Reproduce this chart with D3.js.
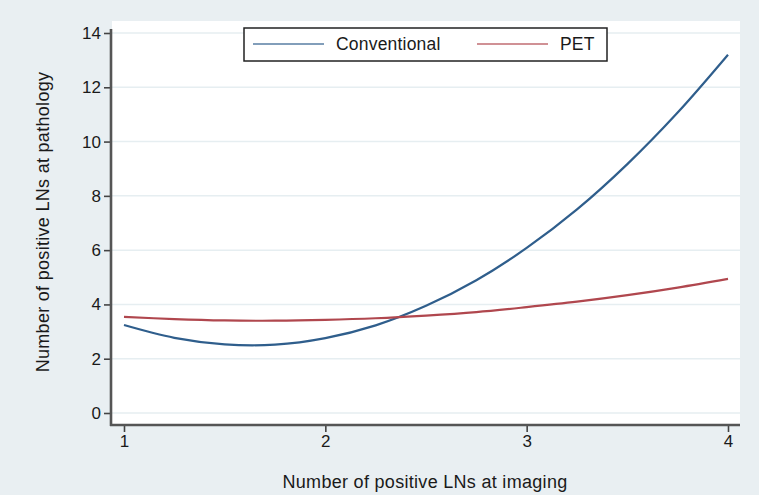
<!DOCTYPE html>
<html>
<head>
<meta charset="utf-8">
<script src="https://cdn.jsdelivr.net/npm/d3@7"></script>
<style>
  html, body { margin: 0; padding: 0; background: #eaf0f3; }
  svg { display: block; }
  text { font-family: "Liberation Sans", Arial, sans-serif; fill: #1a1a1a; }
</style>
</head>
<body>
<div id="chart"></div>
<script>
// Values
const xValues = [1, 1.25, 1.5, 1.75, 2, 2.25, 2.5, 2.75, 3, 3.25, 3.5, 3.75, 4];
const conventional = [3.24, 2.77, 2.53, 2.52, 2.76, 3.23, 3.95, 4.89, 6.08, 7.5, 9.17, 11.07, 13.2];
const pet = [3.54, 3.46, 3.41, 3.40, 3.43, 3.49, 3.59, 3.72, 3.90, 4.10, 4.34, 4.62, 4.94];
const xTicks = [1, 2, 3, 4];
const yTicks = [0, 2, 4, 6, 8, 10, 12, 14];
const seriesNames = ["Conventional", "PET"];

const width = 759, height = 495;
const plot = { left: 112, right: 740, top: 21, bottom: 425 };

const svg = d3.select("#chart")
    .append("svg")
    .attr("width", width)
    .attr("height", height);

// Background
svg.append("rect")
    .attr("width", width).attr("height", height)
    .attr("fill", "#e9eff2");

svg.append("rect")
    .attr("x", plot.left).attr("y", plot.top)
    .attr("width", plot.right - plot.left)
    .attr("height", plot.bottom - plot.top)
    .attr("fill", "#ffffff");

const x = d3.scaleLinear().domain([1, 4]).range([124, 728]);
const y = d3.scaleLinear().domain([0, 14]).range([413, 33]);

// Gridlines
svg.append("g")
    .selectAll("line")
    .data(yTicks)
    .join("line")
    .attr("x1", plot.left).attr("x2", plot.right)
    .attr("y1", d => y(d)).attr("y2", d => y(d))
    .attr("stroke", "#e6eef1")
    .attr("stroke-width", 1.5);

// Lines
const colors = ["#2f5e8c", "#b0474e"];
const line = d3.line()
    .x(d => x(d[0]))
    .y(d => y(d[1]))
    .curve(d3.curveCatmullRom);

[conventional, pet].forEach((vals, i) => {
    svg.append("path")
        .datum(xValues.map((xv, j) => [xv, vals[j]]))
        .attr("fill", "none")
        .attr("stroke", colors[i])
        .attr("stroke-width", 2.2)
        .attr("d", line);
});

// Y axis
const yAxis = svg.append("g")
    .attr("transform", `translate(${plot.left - 1},0)`)
    .call(d3.axisLeft(y).tickValues(yTicks).tickSize(7).tickPadding(3));
yAxis.select(".domain").remove();
yAxis.selectAll(".tick line").attr("stroke", "#444").attr("stroke-width", 1.6);
yAxis.selectAll(".tick text")
    .style("font-size", "17px")
    .style("font-family", "'Liberation Sans', Arial, sans-serif")
    .attr("fill", "#1a1a1a");

svg.append("line")
    .attr("x1", plot.left - 1).attr("x2", plot.left - 1)
    .attr("y1", 29).attr("y2", plot.bottom + 1)
    .attr("stroke", "#555").attr("stroke-width", 2.6);

// X axis
const xAxis = svg.append("g")
    .attr("transform", `translate(0,${plot.bottom})`)
    .call(d3.axisBottom(x).tickValues(xTicks).tickFormat(d3.format("d")).tickSize(7).tickPadding(3));
xAxis.select(".domain").remove();
xAxis.selectAll(".tick line").attr("stroke", "#444").attr("stroke-width", 1.6);
xAxis.selectAll(".tick text")
    .style("font-size", "17px")
    .style("font-family", "'Liberation Sans', Arial, sans-serif")
    .attr("fill", "#1a1a1a");

svg.append("line")
    .attr("x1", plot.left - 2).attr("x2", plot.right)
    .attr("y1", plot.bottom).attr("y2", plot.bottom)
    .attr("stroke", "#555").attr("stroke-width", 2.6);

// Axis titles
svg.append("text")
    .attr("x", 425).attr("y", 488)
    .attr("text-anchor", "middle")
    .style("font-size", "18px")
    .style("letter-spacing", "0.3px")
    .text("Number of positive LNs at imaging");

svg.append("text")
    .attr("transform", "translate(49,222) rotate(-90)")
    .attr("text-anchor", "middle")
    .style("font-size", "18px")
    .style("letter-spacing", "0.3px")
    .text("Number of positive LNs at pathology");

// Legend
const legend = svg.append("g");
legend.append("rect")
    .attr("x", 244).attr("y", 28)
    .attr("width", 363).attr("height", 33)
    .attr("fill", "#ffffff")
    .attr("stroke", "#222")
    .attr("stroke-width", 1.5);

const legendItems = [
    { lx: 253, tx: 336 },
    { lx: 477, tx: 560 }
];
legendItems.forEach((it, i) => {
    legend.append("line")
        .attr("x1", it.lx).attr("x2", it.lx + 71)
        .attr("y1", 44).attr("y2", 44)
        .attr("stroke", colors[i])
        .attr("stroke-opacity", 0.6)
        .attr("stroke-width", 2.2);
    legend.append("text")
        .attr("x", it.tx).attr("y", 50)
        .style("font-size", "17.5px")
        .style("letter-spacing", "0.2px")
        .text(seriesNames[i]);
});
</script>
</body>
</html>
